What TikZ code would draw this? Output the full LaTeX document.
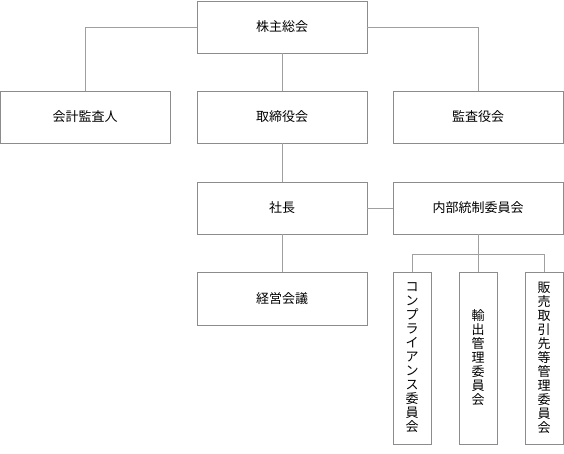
\documentclass[tikz,border=0pt]{standalone}
\usepackage{fontspec}
\setmainfont{Noto Sans CJK JP}
\usepackage{tikz}
\usetikzlibrary{
  positioning,
  calc,
}
\definecolor{cBox}{HTML}{8C8C8C}
\definecolor{cLine}{HTML}{A0A0A0}

\begin{document}
\begin{tikzpicture}[x=1pt,y=-1pt,
    org/.style={draw=cBox,line width=0.9pt,minimum width=170pt,minimum height=52pt,
        inner sep=0pt,font=\fontsize{13}{14}\selectfont},
    tate/.style={draw=cBox,line width=0.9pt,minimum width=38pt,minimum height=172pt,
        inner sep=0pt,align=center,font=\fontsize{13}{14}\selectfont},
    link/.style={draw=cLine,line width=0.9pt},
  ]
  \useasboundingbox (0,0) rectangle (564,454);

  \node[org] (soukai) at (282,27) {株主総会};
  \node[org] (kansanin) at (85,117) {会計監査人};
  \node[org] (torishimari) at (282,117) {取締役会};
  \node[org] (kansayaku) at (478,117) {監査役会};
  \node[org] (shacho) at (282,208) {社長};
  \node[org] (naibu) at (478,208) {内部統制委員会};
  \node[org,minimum height=53pt] (keiei) at (282,298.5) {経営会議};

  \node[tate] (comp) at (412,358) {コ\\ン\\プ\\ラ\\イ\\ア\\ン\\ス\\委\\員\\会};
  \node[tate] (yushutsu) at (478,358) {輸\\出\\管\\理\\委\\員\\会};
  \node[tate] (hanbai) at (544,358) {販\\売\\取\\引\\先\\等\\管\\理\\委\\員\\会};

  \draw[link] (soukai.west) -| (kansanin.north);
  \draw[link] (soukai.east) -| (kansayaku.north);
  \draw[link] (soukai) -- (torishimari);
  \draw[link] (torishimari) -- (shacho);
  \draw[link] (shacho) -- (keiei);
  \draw[link] (shacho) -- (naibu);

  \draw[link] (naibu.south) -- ++(0,20) coordinate (bus);
  \foreach \n in {comp,yushutsu,hanbai}{
      \draw[link] (bus) -| (\n.north);
    }
\end{tikzpicture}
\end{document}
